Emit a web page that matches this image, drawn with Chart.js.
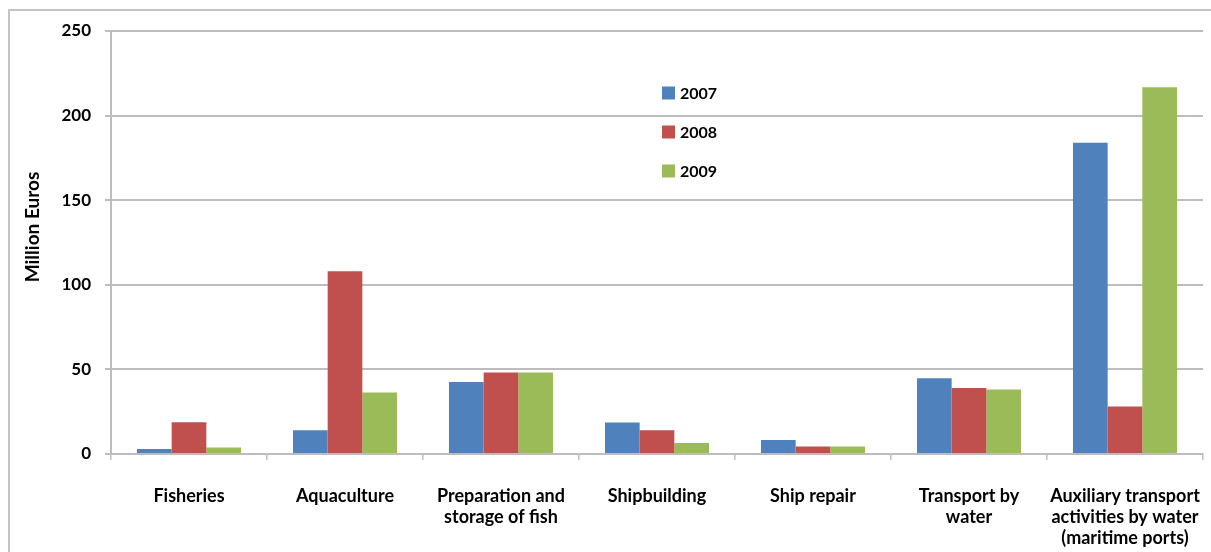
<!DOCTYPE html>
<html>
<head>
<meta charset="utf-8">
<script src="https://cdn.jsdelivr.net/npm/chart.js@4.4.0/dist/chart.umd.min.js"></script>
<style>
  html, body { margin: 0; padding: 0; background: #fff; }
  #wrap { position: relative; width: 1211px; height: 552px; overflow: hidden; }
  #frame { position: absolute; left: 8px; top: 9px; width: 1220px; height: 600px;
           border-left: 2px solid #c4c4c4; border-top: 2px solid #c4c4c4; }
  canvas { position: absolute; left: 0; top: 0; }
</style>
</head>
<body>
<div id="wrap">
  <div id="frame"></div>
  <canvas id="chart" width="1211" height="552"></canvas>
</div>
<script>
// categories (multi-line labels as drawn under the axis)
const sectors = [
  ['Fisheries'],
  ['Aquaculture'],
  ['Preparation and', 'storage of fish'],
  ['Shipbuilding'],
  ['Ship repair'],
  ['Transport by', 'water'],
  ['Auxiliary transport', 'activities by water', '(maritime ports)']
];

const years = ['2007', '2008', '2009'];

// million euros
const values2007 = [3, 14, 42.6, 18.6, 8.3, 44.8, 184];
const values2008 = [18.8, 108, 48.2, 14, 4.5, 39, 28];
const values2009 = [3.8, 36.3, 48.2, 6.5, 4.5, 38.1, 216.8];

const yTicks = [0, 50, 100, 150, 200, 250];

const colors = ['#4F81BD', '#C0504D', '#9BBB59'];
const gridColor = '#bdbdbd';
const font = 'Lato, "Open Sans", sans-serif';

// y axis title, placed where the original has it
const yTitle = {
  id: 'yTitle',
  afterDraw(chart) {
    const ctx = chart.ctx;
    ctx.save();
    ctx.translate(33, 227);
    ctx.rotate(-Math.PI / 2);
    ctx.font = 'bold 19px ' + font;
    ctx.fillStyle = '#000';
    ctx.textAlign = 'center';
    ctx.textBaseline = 'middle';
    ctx.fillText('Million Euros', 0, 0);
    ctx.restore();
  }
};

// legend floating inside the plot
const floatLegend = {
  id: 'floatLegend',
  afterDraw(chart) {
    const ctx = chart.ctx;
    ctx.save();
    ctx.font = 'bold 16px ' + font;
    ctx.textBaseline = 'middle';
    chart.data.datasets.forEach((ds, i) => {
      const y = 93 + i * 39;
      ctx.fillStyle = ds.backgroundColor;
      ctx.fillRect(662, y - 6.5, 13, 13);
      ctx.fillStyle = '#000';
      ctx.fillText(ds.label, 680, y + 1);
    });
    ctx.restore();
  }
};

const series = [values2007, values2008, values2009];

new Chart(document.getElementById('chart'), {
  type: 'bar',
  data: {
    labels: sectors,
    datasets: years.map((y, i) => ({
      label: y,
      data: series[i],
      backgroundColor: colors[i],
      borderWidth: 0,
      categoryPercentage: 0.667,
      barPercentage: 1.0
    }))
  },
  options: {
    responsive: false,
    animation: false,
    layout: { padding: { top: 31, right: 8, left: 0, bottom: 0 } },
    plugins: { legend: { display: false }, tooltip: { enabled: false } },
    scales: {
      x: {
        afterFit(scale) {
          scale.height = 98;
          scale.paddingLeft = 0;
          scale.paddingRight = 0;
        },
        grid: { display: true, drawOnChartArea: false, offset: true, tickLength: 6, color: gridColor, lineWidth: 1.5 },
        border: { color: gridColor, width: 2 },
        ticks: {
          autoSkip: false, maxRotation: 0, minRotation: 0, padding: 26,
          color: '#000', font: { family: font, size: 18, weight: 'bold', lineHeight: 1.17 }
        }
      },
      y: {
        min: 0, max: 250,
        afterFit(scale) { scale.width = 111; },
        afterBuildTicks(scale) { scale.ticks = yTicks.map(v => ({ value: v })); },
        grid: { color: gridColor, lineWidth: 2, tickLength: 6 },
        border: { color: gridColor, width: 2 },
        ticks: {
          padding: 14, color: '#000',
          font: { family: font, size: 17, weight: 'bold' }
        }
      }
    }
  },
  plugins: [yTitle, floatLegend]
});
</script>
</body>
</html>
